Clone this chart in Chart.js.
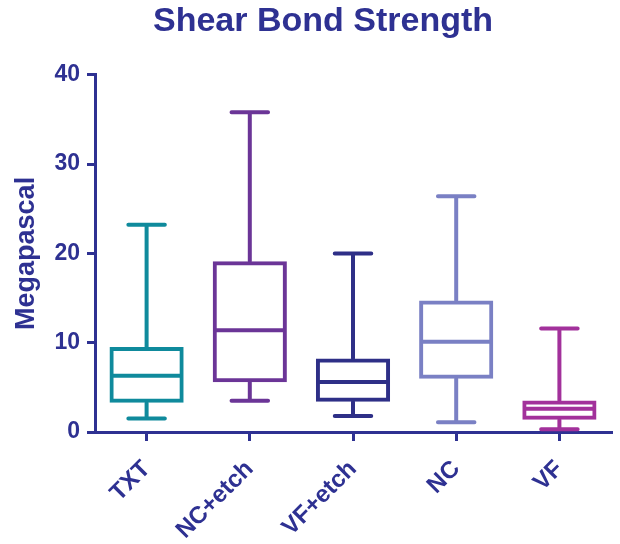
<!DOCTYPE html>
<html>
<head>
<meta charset="utf-8">
<script src="https://cdn.jsdelivr.net/npm/chart.js@4"></script>
<style>
  body { margin: 0; background: #fff; }
  #wrap { width: 620px; height: 544px; }
</style>
</head>
<body>
<div id="wrap"><canvas id="chart"></canvas></div>
<script>
const labels = ['TXT', 'NC+etch', 'VF+etch', 'NC', 'VF']
const mins = [1.5, 3.5, 1.8, 1.1, 0.3]
const q1s = [3.5, 5.8, 3.6, 6.2, 1.6]
const medians = [6.3, 11.4, 5.6, 10.1, 2.6]
const q3s = [9.3, 18.9, 8.0, 14.5, 3.3]
const maxs = [23.2, 35.8, 20.0, 26.4, 11.6]
const yTicks = [0, 10, 20, 30, 40]

const navy = '#2e3192'
const colors = ['#0f8a9c', '#6b3597', '#2e2f87', '#7a80c4', '#a2319b']
const FONT = '"Liberation Sans", Arial, sans-serif'

// whiskers, caps and median lines on top of the floating bars
const boxPlot = {
    id: 'boxPlot',
    afterDatasetsDraw: (chart) => {
        const ctx = chart.ctx
        const y = chart.scales.y
        const meta = chart.getDatasetMeta(0)
        ctx.save()
        ctx.lineWidth = 4
        meta.data.forEach((bar, i) => {
            const x = bar.x
            const half = bar.width / 2
            const cap = bar.width * 0.26
            ctx.strokeStyle = colors[i]
            ctx.lineCap = 'round'
            ctx.beginPath()
            ctx.moveTo(x, y.getPixelForValue(q3s[i]) - 2)
            ctx.lineTo(x, y.getPixelForValue(maxs[i]))
            ctx.moveTo(x - cap, y.getPixelForValue(maxs[i]))
            ctx.lineTo(x + cap, y.getPixelForValue(maxs[i]))
            ctx.moveTo(x, y.getPixelForValue(q1s[i]) + 2)
            ctx.lineTo(x, y.getPixelForValue(mins[i]))
            ctx.moveTo(x - cap, y.getPixelForValue(mins[i]))
            ctx.lineTo(x + cap, y.getPixelForValue(mins[i]))
            ctx.stroke()
            ctx.lineCap = 'butt'
            ctx.beginPath()
            ctx.moveTo(x - half, y.getPixelForValue(medians[i]))
            ctx.lineTo(x + half, y.getPixelForValue(medians[i]))
            ctx.stroke()
        })
        ctx.restore()
    }
}

new Chart(document.getElementById('chart'), {
    type: 'bar',
    data: {
        labels: labels,
        datasets: [{
            data: labels.map((l, i) => [q1s[i], q3s[i]]),
            backgroundColor: '#ffffff',
            borderColor: colors,
            borderWidth: 4,
            borderSkipped: false,
            inflateAmount: 2,
            categoryPercentage: 1,
            barPercentage: 0.68,
        }]
    },
    plugins: [boxPlot],
    options: {
        responsive: true,
        maintainAspectRatio: false,
        animation: false,
        layout: { padding: { left: 35, right: 9, top: 0, bottom: 0 } },
        plugins: {
            legend: { display: false },
            tooltip: { enabled: false },
            title: {
                display: true,
                text: 'Shear Bond Strength',
                color: navy,
                font: { family: FONT, size: 34, weight: 'bold' },
                padding: { top: 1, bottom: 33 },
            },
        },
        scales: {
            x: {
                afterFit: (scale) => { scale.height = 112 },
                grid: {
                    display: true,
                    offset: false,
                    drawOnChartArea: false,
                    drawTicks: true,
                    tickLength: 9,
                    color: navy,
                    lineWidth: 3,
                },
                border: { color: navy, width: 3 },
                ticks: {
                    color: navy,
                    autoSkip: false,
                    minRotation: 45,
                    maxRotation: 45,
                    padding: 14,
                    font: { family: FONT, size: 24, weight: 'bold' },
                },
            },
            y: {
                min: 0,
                max: 40,
                afterFit: (scale) => { scale.width = 60 },
                afterBuildTicks: (scale) => { scale.ticks = yTicks.map(v => ({ value: v })) },
                grid: {
                    display: true,
                    drawOnChartArea: false,
                    drawTicks: true,
                    tickLength: 8,
                    color: navy,
                    lineWidth: 3,
                },
                border: { color: navy, width: 3 },
                ticks: {
                    color: navy,
                    padding: 7,
                    font: { family: FONT, size: 23, weight: 'bold' },
                },
                title: {
                    display: true,
                    text: 'Megapascal',
                    color: navy,
                    padding: { top: -25, bottom: 0 },
                    font: { family: FONT, size: 27, weight: 'bold' },
                },
            }
        }
    }
})
</script>
</body>
</html>
